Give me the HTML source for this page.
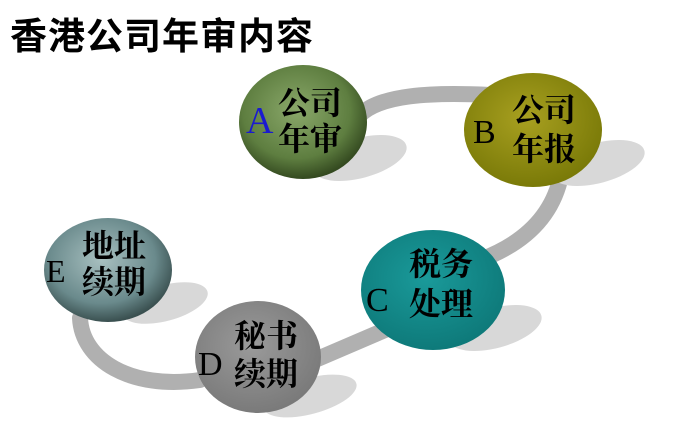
<!DOCTYPE html>
<html><head><meta charset="utf-8"><style>
html,body{margin:0;padding:0;background:#fff;}
body{width:680px;height:424px;overflow:hidden;position:relative;}
.t{position:absolute;left:10px;top:6px;font:bold 37px "Liberation Sans","Noto Sans CJK SC",sans-serif;color:#000;letter-spacing:1px;}
svg text{font-family:"Liberation Serif","Noto Serif CJK SC",serif;font-weight:bold;}
</style></head><body>
<div class="t">香港公司年审内容</div>
<svg width="680" height="424" style="position:absolute;left:0;top:0">
<defs>
<radialGradient id="ga" cx="45%" cy="40%" r="60%"><stop offset="0" stop-color="#8aa86a"/><stop offset="0.7" stop-color="#5e7e40"/><stop offset="1" stop-color="#344a20"/></radialGradient>
<radialGradient id="gb" cx="45%" cy="40%" r="60%"><stop offset="0" stop-color="#a8a020"/><stop offset="1" stop-color="#7a7a08"/></radialGradient>
<radialGradient id="gc" cx="45%" cy="40%" r="60%"><stop offset="0" stop-color="#1a9a9a"/><stop offset="1" stop-color="#0e7a7a"/></radialGradient>
<radialGradient id="gd" cx="45%" cy="40%" r="60%"><stop offset="0" stop-color="#9a9a9a"/><stop offset="1" stop-color="#7a7a7a"/></radialGradient>
<radialGradient id="ge" cx="45%" cy="40%" r="60%"><stop offset="0" stop-color="#a8c0c0"/><stop offset="0.7" stop-color="#6a8a8c"/><stop offset="1" stop-color="#3a5050"/></radialGradient>
</defs>
<g fill="none" stroke="#b0b0b0" stroke-width="16" stroke-linecap="round">
<path d="M360,115 C380,95 430,92 490,95"/>
<path d="M560,180 C550,220 520,245 480,260"/>
<path d="M385,330 L315,360"/>
<path d="M200,380 C130,390 82,360 80,318"/>
</g>
<g fill="#d8d8d8">
<ellipse cx="360" cy="158" rx="48" ry="20" transform="rotate(-15 360 158)"/>
<ellipse cx="598" cy="163" rx="48" ry="20" transform="rotate(-15 598 163)"/>
<ellipse cx="495" cy="328" rx="48" ry="20" transform="rotate(-15 495 328)"/>
<ellipse cx="310" cy="396" rx="48" ry="18" transform="rotate(-15 310 396)"/>
<ellipse cx="165" cy="303" rx="44" ry="18" transform="rotate(-15 165 303)"/>
</g>
<ellipse cx="303" cy="122" rx="64" ry="57" fill="url(#ga)"/>
<ellipse cx="533" cy="130" rx="69" ry="57" fill="url(#gb)"/>
<ellipse cx="433" cy="290" rx="72" ry="60" fill="url(#gc)"/>
<ellipse cx="258" cy="357" rx="63" ry="56" fill="url(#gd)"/>
<ellipse cx="108" cy="270" rx="64" ry="52" fill="url(#ge)"/>
<g font-size="32" fill="#000">
<text x="246" y="133" fill="#1a1ad0" font-size="38" font-weight="normal" style="font-weight:normal">A</text>
<text x="278" y="114">公司</text><text x="278" y="150">年审</text>
<text x="473" y="143" font-size="34" style="font-weight:normal">B</text>
<text x="512" y="121">公司</text><text x="512" y="160">年报</text>
<text x="366" y="311" font-size="34" style="font-weight:normal">C</text>
<text x="409" y="275">税务</text><text x="409" y="315">处理</text>
<text x="198" y="375" font-size="34" style="font-weight:normal">D</text>
<text x="234" y="347">秘书</text><text x="234" y="385">续期</text>
<text x="46" y="282" font-size="32" style="font-weight:normal">E</text>
<text x="82" y="257">地址</text><text x="82" y="293">续期</text>
</g>
</svg>
</body></html>
